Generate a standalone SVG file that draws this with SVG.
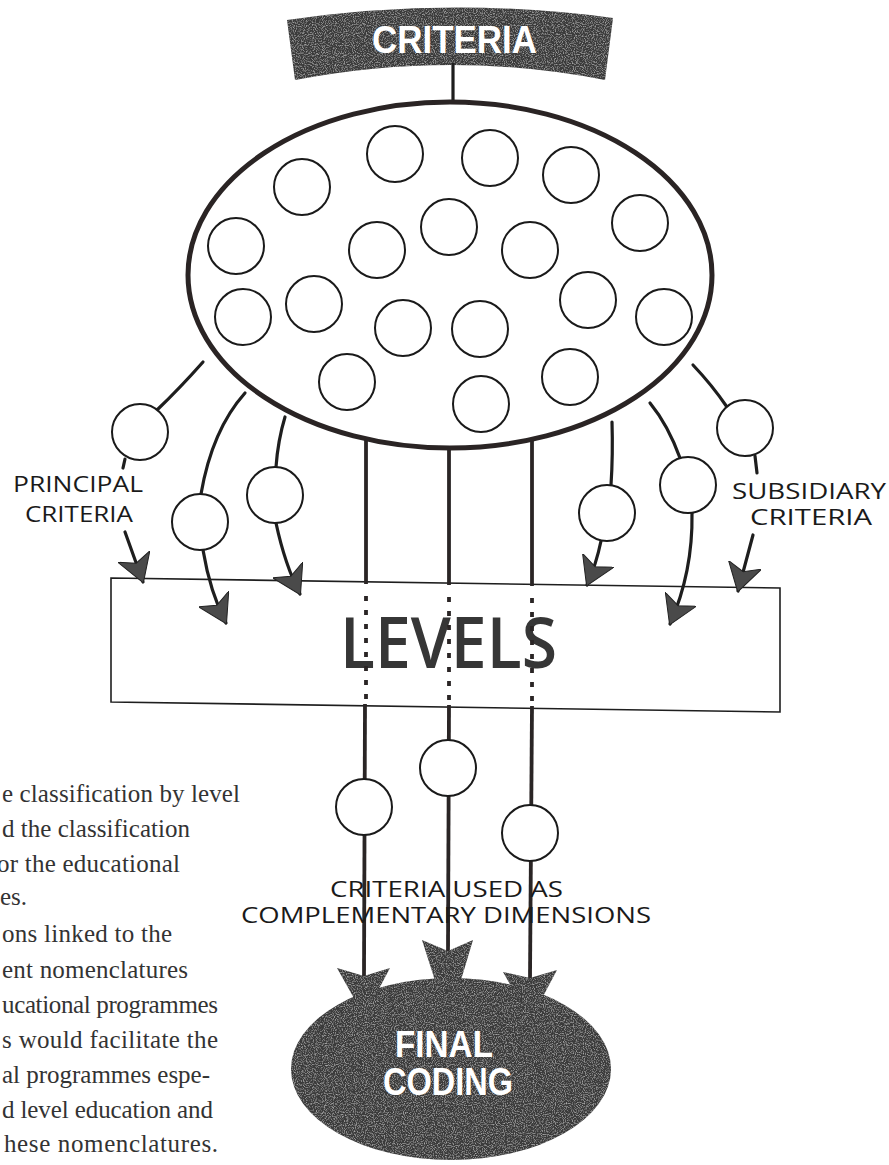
<svg xmlns="http://www.w3.org/2000/svg" width="889" height="1165" viewBox="0 0 889 1165">
<style>
.bg{fill:#ffffff}
.dark{fill:#3b3b3b}
.line{fill:none;stroke:#1e1e1e;stroke-width:3.2;stroke-linecap:round}
.vline{fill:none;stroke:#2a2525;stroke-width:3.8}
.dash{fill:none;stroke:#2a2525;stroke-width:3.8;stroke-dasharray:5 9}
.circ{fill:#ffffff;stroke:#1a1a1a;stroke-width:2}
.box{fill:#ffffff;stroke:#1e1e1e;stroke-width:1.6}
.lbl{font-family:"Open Sans","Liberation Sans",sans-serif;font-size:22px;fill:#1a1a1a}
.big{font-family:"Liberation Sans","Open Sans",sans-serif;font-weight:bold;fill:#ffffff}
.para{font-family:"Liberation Serif","DejaVu Serif",serif;font-size:25px;fill:#333333}
</style>
<defs>
<filter id="grain" x="0" y="0" width="100%" height="100%">
<feTurbulence type="fractalNoise" baseFrequency="0.9" numOctaves="2" seed="3" result="n"/>
<feColorMatrix in="n" type="matrix" values="0 0 0 0 0.6  0 0 0 0 0.6  0 0 0 0 0.6  0 0 0 1.6 -0.75" result="g"/>
<feComposite in="g" in2="SourceGraphic" operator="in" result="gi"/>
<feMerge><feMergeNode in="SourceGraphic"/><feMergeNode in="gi"/></feMerge>
</filter>
<marker id="ah" viewBox="0 0 28 34" refX="27" refY="17" markerWidth="28" markerHeight="34" markerUnits="userSpaceOnUse" orient="auto">
<path d="M28,17 L0,0 L7,17 L0,34 Z" fill="#4a4a4a" stroke="#222" stroke-width="1"/>
</marker>
</defs>
<rect class="bg" x="0" y="0" width="889" height="1165"/>

<g id="criteria-banner">
<path class="dark" filter="url(#grain)" d="M287,20 Q450,-4 613,18 L605,80 Q453,50 295,80 Z"/>
<text class="big" x="372" y="53" font-size="39" textLength="165" lengthAdjust="spacingAndGlyphs">CRITERIA</text>
</g>

<g id="levels">
<polygon class="box" points="111,578 780,588 780,712 111,702"/>
<text x="340" y="668" font-family="'Open Sans','Liberation Sans',sans-serif" font-size="70" font-weight="600" fill="#363636" textLength="217" lengthAdjust="spacingAndGlyphs">LEVELS</text>
</g>

<g id="final-coding">
<ellipse class="dark" filter="url(#grain)" cx="451" cy="1069" rx="160" ry="91"/>
<text class="big" x="395" y="1057" font-size="36" textLength="98" lengthAdjust="spacingAndGlyphs">FINAL</text>
<text class="big" x="383" y="1095" font-size="38" textLength="130" lengthAdjust="spacingAndGlyphs">CODING</text>
</g>

<g id="connectors">
<line class="line" x1="453" y1="64" x2="453" y2="104"/>
<path class="line" d="M203,362 Q180,388 157,410"/>
<path class="line" d="M125,459 L123,468"/>
<path class="line" d="M125,532 L143,582" marker-end="url(#ah)"/>
<path class="line" d="M245,393 Q212,430 201,494"/>
<path class="line" d="M203,550 Q210,592 226,623" marker-end="url(#ah)"/>
<path class="line" d="M285,417 Q278,440 276,467"/>
<path class="line" d="M276,523 Q285,565 300,594" marker-end="url(#ah)"/>
<path class="line" d="M612,422 Q613,455 611,485"/>
<path class="line" d="M601,541 Q596,565 587,585" marker-end="url(#ah)"/>
<path class="line" d="M650,403 Q668,425 680,458"/>
<path class="line" d="M692,513 Q693,572 670,624" marker-end="url(#ah)"/>
<path class="line" d="M693,365 Q712,385 727,407"/>
<path class="line" d="M755,456 L757,473"/>
<path class="line" d="M753,535 L738,591" marker-end="url(#ah)"/>
<line class="vline" x1="366" y1="440" x2="366" y2="584"/>
<line class="vline" x1="449" y1="447" x2="449" y2="585"/>
<line class="vline" x1="532" y1="440" x2="532" y2="586"/>
<line class="dash" x1="366" y1="596" x2="366" y2="700"/>
<line class="dash" x1="449" y1="597" x2="449" y2="701"/>
<line class="dash" x1="532" y1="598" x2="532" y2="702"/>
<line class="vline" x1="365" y1="704" x2="364" y2="976"/>
<line class="vline" x1="449" y1="705" x2="448" y2="951"/>
<line class="vline" x1="532" y1="706" x2="530" y2="978"/>
<g class="dark" filter="url(#grain)">
<polygon points="337,968 364,976 390,968 373,1000 355,1000"/>
<polygon points="422,940 448,951 473,940 458,990 438,990"/>
<polygon points="503,972 530,978 557,970 540,1002 520,1002"/>
</g>
</g>

<g id="ellipse-criteria">
<ellipse cx="450" cy="275" rx="262" ry="173" fill="#ffffff" stroke="#2a2424" stroke-width="5"/>
<circle class="circ" cx="395" cy="154" r="28"/>
<circle class="circ" cx="490" cy="158" r="28"/>
<circle class="circ" cx="571" cy="175" r="28"/>
<circle class="circ" cx="302" cy="187" r="28"/>
<circle class="circ" cx="640" cy="223" r="28"/>
<circle class="circ" cx="449" cy="227" r="28"/>
<circle class="circ" cx="236" cy="246" r="28"/>
<circle class="circ" cx="377" cy="250" r="28"/>
<circle class="circ" cx="530" cy="250" r="28"/>
<circle class="circ" cx="243" cy="317" r="28"/>
<circle class="circ" cx="314" cy="304" r="28"/>
<circle class="circ" cx="403" cy="328" r="28"/>
<circle class="circ" cx="480" cy="329" r="28"/>
<circle class="circ" cx="588" cy="300" r="28"/>
<circle class="circ" cx="664" cy="317" r="28"/>
<circle class="circ" cx="347" cy="382" r="28"/>
<circle class="circ" cx="481" cy="404" r="28"/>
<circle class="circ" cx="570" cy="377" r="28"/>
</g>

<g id="principal-circles">
<circle class="circ" cx="140" cy="432" r="28"/>
<circle class="circ" cx="200" cy="522" r="28"/>
<circle class="circ" cx="275" cy="495" r="28"/>
</g>
<g id="subsidiary-circles">
<circle class="circ" cx="607" cy="513" r="28"/>
<circle class="circ" cx="688" cy="485" r="28"/>
<circle class="circ" cx="745" cy="428" r="28"/>
</g>
<g id="complementary-circles">
<circle class="circ" cx="364" cy="807" r="28"/>
<circle class="circ" cx="448" cy="768" r="28"/>
<circle class="circ" cx="530" cy="833" r="28"/>
</g>

<g id="labels">
<text class="lbl" x="13" y="492" textLength="130" lengthAdjust="spacingAndGlyphs">PRINCIPAL</text>
<text class="lbl" x="25" y="522" textLength="108" lengthAdjust="spacingAndGlyphs">CRITERIA</text>
<text class="lbl" x="732" y="499" textLength="154" lengthAdjust="spacingAndGlyphs">SUBSIDIARY</text>
<text class="lbl" x="750" y="525" textLength="122" lengthAdjust="spacingAndGlyphs">CRITERIA</text>
<text class="lbl" x="330" y="897" font-size="23" textLength="233" lengthAdjust="spacingAndGlyphs">CRITERIA USED AS</text>
<text class="lbl" x="241" y="923" font-size="23" textLength="410" lengthAdjust="spacingAndGlyphs">COMPLEMENTARY DIMENSIONS</text>
</g>

<g id="paragraph">
<text class="para" x="2" y="802" textLength="238">e classification by level</text>
<text class="para" x="2" y="837" textLength="188">d the classification</text>
<text class="para" x="-3" y="872" textLength="183">or the educational</text>
<text class="para" x="0" y="905">es.</text>
<text class="para" x="2" y="942" textLength="170">ons linked to the</text>
<text class="para" x="2" y="978" textLength="186">ent nomenclatures</text>
<text class="para" x="2" y="1013" textLength="216">ucational programmes</text>
<text class="para" x="2" y="1048" textLength="216">s would facilitate the</text>
<text class="para" x="2" y="1083" textLength="208">al programmes espe-</text>
<text class="para" x="2" y="1118" textLength="211">d level education and</text>
<text class="para" x="4" y="1152" textLength="214">hese nomenclatures.</text>
</g>
</svg>
